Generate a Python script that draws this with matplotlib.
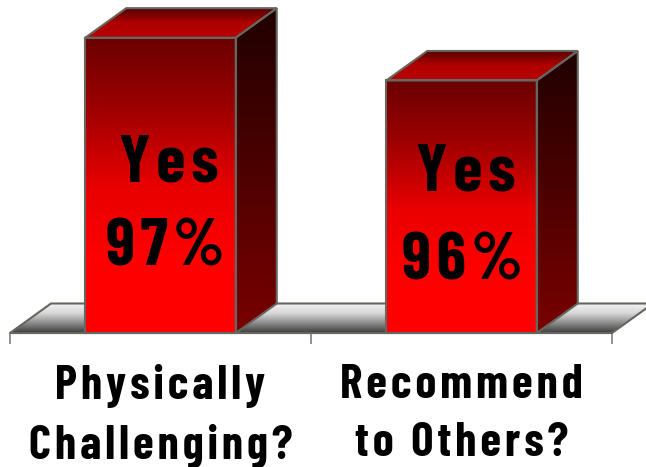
import numpy as np
import matplotlib
matplotlib.use('Agg')
import matplotlib.pyplot as plt
from matplotlib.colors import LinearSegmentedColormap
from matplotlib.patches import Polygon

categories = ['Physically\nChallenging?', 'Recommend\nto Others?']
answers = ['Yes', 'Yes']
values = [97, 96]

# axis is truncated, bars start near 90
base = 90.1
W, H = 646, 467
x_unit = 301.0
y_unit = 42.8
bar_w = 0.5
dx = 41 / x_unit
dy = 29.5 / y_unit
edge = '#66665f'
SP = '\u200a'


def spaced(s):
    return '\n'.join(SP.join(line) for line in s.split('\n'))


def gradient(ax, colors, x0, x1, y0, y1, clip):
    cmap = LinearSegmentedColormap.from_list('g', colors)
    im = ax.imshow(np.linspace(0, 1, 256).reshape(-1, 1), cmap=cmap, aspect='auto',
                   extent=(x0, x1, y0, y1), origin='upper', zorder=clip.get_zorder() - 0.5)
    im.set_clip_path(clip)


plt.rcParams['font.family'] = ['Barlow Condensed', 'Liberation Sans', 'DejaVu Sans']
plt.rcParams['font.weight'] = 'bold'

fig = plt.figure(figsize=(W / 100, H / 100), dpi=100)
ax = fig.add_axes([0, 0, 1, 1])
xs = np.arange(len(values))

# floor
floor_pts = [(-0.5, base), (-0.5 + dx, base + dy), (1.5 + dx, base + dy), (1.5, base)]
floor = Polygon(floor_pts, closed=True, fc='none', ec=edge, lw=1.5, zorder=2)
ax.add_patch(floor)
gradient(ax, ['#f4f4f4', '#d8d8d8', '#8c8c8c', '#3c3c3c'], -0.5, 1.5 + dx, base, base + dy, floor)

# bars
bars = ax.bar(xs, np.array(values) - base, bar_w, bottom=base, fc='none', ec=edge, lw=1.5, zorder=5)
for x, v, rect in zip(xs, values, bars):
    l, r = x - bar_w / 2, x + bar_w / 2
    gradient(ax, ['#6a0000', '#a00000', '#e80000', '#ff0000', '#ff0000'], l, r, base, v, rect)
    side = Polygon([(r, base), (r + dx, base + dy), (r + dx, v + dy), (r, v)], closed=True,
                   fc='none', ec=edge, lw=1.5, zorder=5)
    ax.add_patch(side)
    gradient(ax, ['#200000', '#7a0000'], r, r + dx, base, v + dy, side)
    top = Polygon([(l, v), (l + dx, v + dy), (r + dx, v + dy), (r, v)], closed=True,
                  fc='none', ec=edge, lw=1.5, zorder=5)
    ax.add_patch(top)
    gradient(ax, ['#500000', '#b00000', '#b80000'], l, r + dx, v, v + dy, top)

ax.set_xlim(-160.5 / x_unit, (W - 160.5) / x_unit)
ax.set_ylim(base - (H - 333) / y_unit, base + 333 / y_unit)

# axis line and ticks
for s in ['top', 'left', 'right']:
    ax.spines[s].set_visible(False)
ax.spines['bottom'].set_position(('data', base))
ax.spines['bottom'].set_bounds(-0.5, 1.5)
ax.spines['bottom'].set_color('#a0a09a')
ax.spines['bottom'].set_linewidth(1.5)
ax.spines['bottom'].set_zorder(1)
ax.set_yticks([])
ax.set_xticks([-0.5, 0.5, 1.5])
ax.set_xticklabels([])
ax.tick_params(axis='x', which='major', length=8, width=1.2, color='#80807a')
ax.set_xticks(xs, minor=True)
ax.set_xticklabels([spaced(c) for c in categories], minor=True, fontsize=34, linespacing=1.44)
ax.tick_params(axis='x', which='minor', length=0, pad=22)

# labels inside the bars
label_x = [169, 466]
label_y = [164, 174]
value_y = [249, 262]
for i in range(len(values)):
    fig.text(label_x[i] / W, 1 - label_y[i] / H, spaced(answers[i]), fontsize=48,
             ha='center', va='center', zorder=10)
    fig.text((label_x[i] - 4) / W, 1 - value_y[i] / H, spaced('%d%%' % values[i]), fontsize=48,
             ha='center', va='center', zorder=10)

fig.savefig('out.png', dpi=100)
